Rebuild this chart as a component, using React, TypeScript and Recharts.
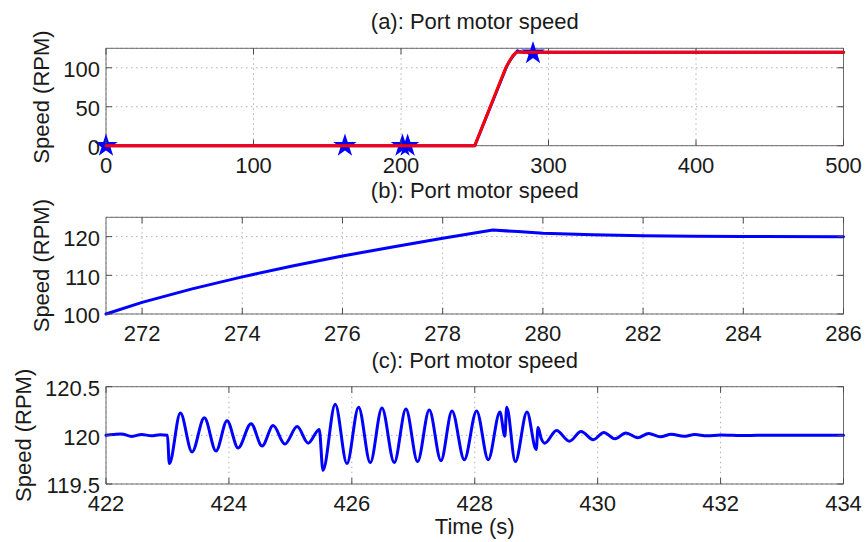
import React from 'react';
import {
  ComposedChart,
  Line,
  Scatter,
  XAxis,
  YAxis,
  CartesianGrid,
  ReferenceArea,
  Symbols,
} from 'recharts';

// ---------- Panel (a): full run ----------
const aTitle = '(a): Port motor speed';
const aXTicks = [0, 100, 200, 300, 400, 500];
const aYTicks = [0, 50, 100];
const aXDomain = [0, 500];
const aYDomain = [0, 125];
const aRefTime = [0, 250, 271, 274, 276, 278, 279.5, 500];
const aRefSpeed = [0, 0, 100, 110, 116, 119.5, 120, 120];
const aActTime = [0, 250, 271.28, 272, 273, 274, 275, 276, 277, 278, 279, 280, 282, 284, 286, 500];
const aActSpeed = [0, 0, 100, 103, 106.5, 109.6, 112.4, 115, 117.3, 119.6, 121.7, 120.9, 120.25, 120.06, 120, 120];
const aStarTime = [0, 162, 201, 204.5, 289.5];
const aStarSpeed = [0, 0, 0, 0, 118.5];

// ---------- Panel (b): zoom on acceleration ----------
const bTitle = '(b): Port motor speed';
const bXTicks = [272, 274, 276, 278, 280, 282, 284, 286];
const bYTicks = [100, 110, 120];
const bXDomain = [271.28, 286];
const bYDomain = [100, 125];
const bTime = [271.28, 272, 273, 274, 275, 276, 277, 278, 279, 279.5, 280, 281, 282, 283, 284, 286];
const bSpeed = [100, 103, 106.5, 109.6, 112.4, 115, 117.3, 119.6, 121.7, 121.3, 120.9, 120.5, 120.25, 120.12, 120.06, 120];

// ---------- Panel (c): oscillations ----------
const cTitle = '(c): Port motor speed';
const cXTicks = [422, 424, 426, 428, 430, 432, 434];
const cYTicks = [119.5, 120, 120.5];
const cXDomain = [422, 434];
const cYDomain = [119.5, 120.5];
const cTime = [
  422.0, 422.12, 422.25, 422.42, 422.58, 422.74, 422.88, 423.0, 423.03, 423.21,
  423.4, 423.6, 423.79, 423.97, 424.15, 424.36, 424.54, 424.72, 424.91, 425.11,
  425.29, 425.47, 425.53, 425.73, 425.92, 426.11, 426.3, 426.49, 426.69, 426.88,
  427.07, 427.26, 427.45, 427.63, 427.83, 428.03, 428.22, 428.41, 428.49, 428.52,
  428.66, 428.85, 429.0, 429.03, 429.08, 429.14, 429.33, 429.54, 429.73, 429.93,
  430.1, 430.28, 430.46, 430.65, 430.83, 431.02, 431.2, 431.4, 431.58, 431.78,
  432.0, 432.4, 432.8, 433.4, 434.0,
];
const cSpeed = [
  120.0, 120.008, 120.015, 119.988, 120.01, 119.995, 120.006, 120.0, 119.71, 120.23,
  119.83, 120.18, 119.84, 120.15, 119.87, 120.12, 119.89, 120.1, 119.91, 120.09,
  119.92, 120.06, 119.64, 120.32, 119.71, 120.29, 119.72, 120.28, 119.72, 120.27,
  119.73, 120.26, 119.74, 120.25, 119.75, 120.25, 119.75, 120.24, 119.99, 120.29,
  119.73, 120.24, 119.855, 120.08, 119.97, 119.92, 120.05, 119.94, 120.04, 119.955,
  120.03, 119.965, 120.025, 119.975, 120.02, 119.985, 120.012, 119.99, 120.008, 119.995,
  120.004, 119.998, 120.002, 120.0, 120.0,
];

const xLabel = 'Time (s)';
const yLabel = 'Speed (RPM)';

// ---------- styling ----------
const W = 866;
const H = 542;
const PL = 106;
const PR = 843.5;
const FONT = '"Liberation Sans", Arial, Helvetica, sans-serif';
const FS = 22;
const TEXT = '#1a1a1a';
const BOX = '#6a6a6a';
const TICK = '#4a4a4a';
const GRID = '#b0b0b0';
const BLUE = '#0000ff';
const RED = '#ff0000';

const toPts = (ts: number[], vs: number[]) => ts.map((t, i) => ({ t, v: vs[i] }));

type LineSpec = { data: { t: number; v: number }[]; color: string; type: any };

type PanelProps = {
  top: number;
  bottom: number;
  xDomain: number[];
  xTicks: number[];
  yDomain: number[];
  yTicks: number[];
  lines?: LineSpec[];
  stars?: { t: number; v: number }[];
  overlay?: boolean;
};

function Panel({ top, bottom, xDomain, xTicks, yDomain, yTicks, lines = [], stars, overlay = false }: PanelProps) {
  const plotW = PR - PL;
  const plotH = bottom - top;
  const XTick = (p: any) => {
    const { x, y, payload } = p;
    return (
      <g>
        <line x1={x} x2={x} y1={y} y2={y - 6} stroke={TICK} strokeWidth={1} />
        <line x1={x} x2={x} y1={y - plotH} y2={y - plotH + 6} stroke={TICK} strokeWidth={1} />
        <text x={x} y={y + 27} textAnchor="middle" fontFamily={FONT} fontSize={FS} fill={TEXT}>
          {String(payload.value)}
        </text>
      </g>
    );
  };
  const YTick = (p: any) => {
    const { x, y, payload } = p;
    return (
      <g>
        <line x1={x} x2={x + 6} y1={y} y2={y} stroke={TICK} strokeWidth={1} />
        <line x1={x + plotW} x2={x + plotW - 6} y1={y} y2={y} stroke={TICK} strokeWidth={1} />
        <text x={x - 6} y={y + 9.4} textAnchor="end" fontFamily={FONT} fontSize={FS} fill={TEXT}>
          {String(payload.value)}
        </text>
      </g>
    );
  };
  return (
    <div style={{ position: 'absolute', left: 0, top: 0 }}>
      <ComposedChart
        width={W}
        height={H}
        margin={{ top, right: W - PR, bottom: H - bottom - 30, left: 0 }}
      >
        {overlay ? null : <CartesianGrid stroke={GRID} strokeDasharray="1.5 3.5" strokeWidth={1} />}
        <XAxis
          type="number"
          dataKey="t"
          domain={xDomain}
          ticks={xTicks}
          interval={0}
          tickSize={0}
          tickMargin={0}
          axisLine={false}
          tickLine={false}
          tick={overlay ? false : XTick}
          height={30}
        />
        <YAxis
          type="number"
          domain={yDomain}
          ticks={yTicks}
          interval={0}
          tickSize={0}
          tickMargin={0}
          axisLine={false}
          tickLine={false}
          tick={overlay ? false : YTick}
          width={PL}
        />
        {overlay ? null : (
          <ReferenceArea
            x1={xDomain[0]}
            x2={xDomain[1]}
            y1={yDomain[0]}
            y2={yDomain[1]}
            fill="none"
            fillOpacity={0}
            stroke={BOX}
            strokeWidth={1}
            ifOverflow="visible"
          />
        )}
        {lines.map((l, i) => (
          <Line
            key={i}
            data={l.data}
            dataKey="v"
            type={l.type}
            stroke={l.color}
            strokeWidth={3}
            dot={false}
            activeDot={false}
            isAnimationActive={false}
            strokeLinejoin="round"
            strokeLinecap="round"
          />
        ))}
        {stars ? (
          <Scatter
            data={stars}
            dataKey="v"
            isAnimationActive={false}
            shape={(p: any) => <Symbols cx={p.cx} cy={p.cy} type="star" size={170} fill={BLUE} />}
          />
        ) : null}
      </ComposedChart>
    </div>
  );
}

const panels = [
  { title: aTitle, top: 48.3, bottom: 145.7, ylx: 49 },
  { title: bTitle, top: 217.3, bottom: 314, ylx: 49 },
  { title: cTitle, top: 386.7, bottom: 484, ylx: 31 },
];

export default function App() {
  const cx = (PL + PR) / 2;
  return (
    <div style={{ position: 'absolute', left: 0, top: 0, width: W, height: H, background: '#fff' }}>
      <Panel
        top={panels[0].top}
        bottom={panels[0].bottom}
        xDomain={aXDomain}
        xTicks={aXTicks}
        yDomain={aYDomain}
        yTicks={aYTicks}
        lines={[{ data: toPts(aActTime, aActSpeed), color: BLUE, type: 'linear' }]}
        stars={toPts(aStarTime, aStarSpeed)}
      />
      <Panel
        top={panels[0].top}
        bottom={panels[0].bottom}
        xDomain={aXDomain}
        xTicks={aXTicks}
        yDomain={aYDomain}
        yTicks={aYTicks}
        lines={[{ data: toPts(aRefTime, aRefSpeed), color: RED, type: 'linear' }]}
        overlay
      />
      <Panel
        top={panels[1].top}
        bottom={panels[1].bottom}
        xDomain={bXDomain}
        xTicks={bXTicks}
        yDomain={bYDomain}
        yTicks={bYTicks}
        lines={[{ data: toPts(bTime, bSpeed), color: BLUE, type: 'linear' }]}
      />
      <Panel
        top={panels[2].top}
        bottom={panels[2].bottom}
        xDomain={cXDomain}
        xTicks={cXTicks}
        yDomain={cYDomain}
        yTicks={cYTicks}
        lines={[{ data: toPts(cTime, cSpeed), color: BLUE, type: 'monotone' }]}
      />
      <svg
        width={W}
        height={H}
        style={{ position: 'absolute', left: 0, top: 0, pointerEvents: 'none' }}
      >
        {panels.map((p, i) => (
          <g key={i}>
            <text x={cx} y={p.top - 19} textAnchor="middle" fontFamily={FONT} fontSize={FS} fill={TEXT}>
              {p.title}
            </text>
            <text
              transform={`translate(${p.ylx}, ${(p.top + p.bottom) / 2}) rotate(-90)`}
              textAnchor="middle"
              fontFamily={FONT}
              fontSize={FS}
              fill={TEXT}
            >
              {yLabel}
            </text>
          </g>
        ))}
        <text x={cx} y={534} textAnchor="middle" fontFamily={FONT} fontSize={FS} fill={TEXT}>
          {xLabel}
        </text>
      </svg>
    </div>
  );
}
